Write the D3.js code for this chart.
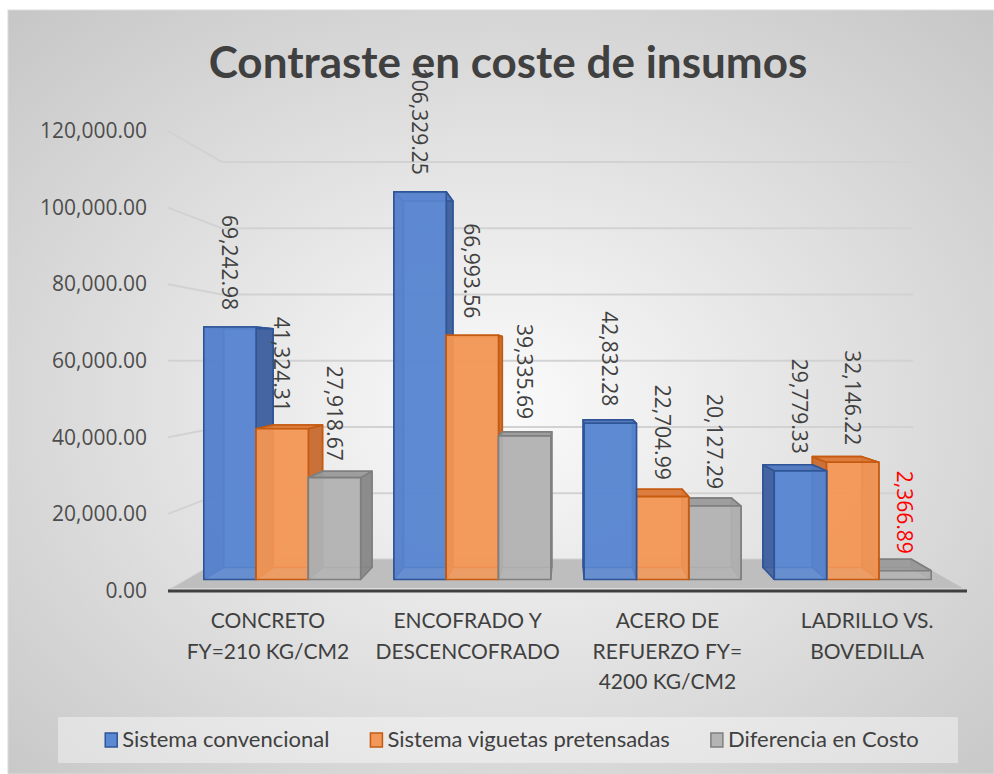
<!DOCTYPE html>
<html>
<head>
<meta charset="utf-8">
<script src="https://cdn.jsdelivr.net/npm/d3@7"></script>
<style>
  html, body { margin: 0; padding: 0; background: #ffffff; }
  svg { display: block; }
</style>
</head>
<body>
<svg id="chart" width="994" height="774"></svg>
<script>
// ---------------- DATA ----------------
const categories = [
  "CONCRETO FY=210 KG/CM2",
  "ENCOFRADO Y DESCENCOFRADO",
  "ACERO DE REFUERZO FY= 4200 KG/CM2",
  "LADRILLO VS. BOVEDILLA"
];
const categoryLines = [
  ["CONCRETO", "FY=210 KG/CM2"],
  ["ENCOFRADO Y", "DESCENCOFRADO"],
  ["ACERO DE", "REFUERZO FY=", "4200 KG/CM2"],
  ["LADRILLO VS.", "BOVEDILLA"]
];
const seriesNames = ["Sistema convencional", "Sistema viguetas pretensadas", "Diferencia en Costo"];
const convencional = [69242.98, 106329.25, 42832.28, 29779.33];
const viguetas     = [41324.31, 66993.56, 22704.99, 32146.22];
const diferencia   = [27918.67, 39335.69, 20127.29, 2366.89];
const yTicks = [0, 20000, 40000, 60000, 80000, 100000, 120000];
const titleText = "Contraste en coste de insumos";

// ---------------- STYLE ----------------
const seriesStyle = [
  { front: "#5B88D2", side: "#3F5F9C", top: "#5278BE", stroke: "#2F5597" },
  { front: "#F2985A", side: "#C46C32", top: "#D9793A", stroke: "#C55A11" },
  { front: "#B4B4B4", side: "#868686", top: "#9A9A9A", stroke: "#7F7F7F" }
];
const highlight = { category: 3, series: 2, color: "#FF0000" };

const svg = d3.select("#chart");
const W = 994, H = 774;

// background
const defs = svg.append("defs");
const rg = defs.append("radialGradient").attr("id", "bg")
  .attr("cx", "50%").attr("cy", "52%").attr("r", "75%");
rg.append("stop").attr("offset", "0%").attr("stop-color", "#fbfbfb");
rg.append("stop").attr("offset", "100%").attr("stop-color", "#c4c4c4");
svg.append("rect").attr("x", 8).attr("y", 10).attr("width", W - 8).attr("height", H - 10)
  .attr("fill", "url(#bg)").attr("stroke", "#dcdcdc").attr("stroke-width", 1);

// ---------------- SCALES / PROJECTION ----------------
const VX = 567, VY = 360;         // vanishing point
const S_WALL = 0.865, S_FLOOR_FRONT = 0.99;
const S_BAR_FRONT = 0.952, S_BAR_BACK = 0.90;
const P = (X, Y, s) => [VX + (X - VX) * s, VY + (Y - VY) * s];

const x = d3.scaleBand().domain(categories).range([168, 967])
  .paddingInner(0.175).paddingOuter(0.0875);
const xs = d3.scaleBand().domain(d3.range(seriesNames.length)).range([0, x.bandwidth()]);
const y = d3.scaleLinear().domain([0, 120000]).range([590.5, 131]);

const X0 = 168, X1 = 967;
const line = d3.line();

// side wall tick lines + back wall gridlines
const grid = svg.append("g");
yTicks.forEach(v => {
  const a = P(X0, y(v), 1), b = P(X0, y(v), S_WALL), c = P(X1, y(v), S_WALL);
  grid.append("path").attr("d", line([a, b, c]))
    .attr("fill", "none").attr("stroke", "#d2d2d2").attr("stroke-width", 2);
});

// floor
const floorPts = [P(X0, y(0), S_FLOOR_FRONT), P(X1, y(0), S_FLOOR_FRONT), P(X1, y(0), S_WALL), P(X0, y(0), S_WALL)];
svg.append("path").attr("d", line(floorPts) + "Z").attr("fill", "#bebebe");

// axis line
svg.append("line").attr("x1", X0).attr("x2", X1).attr("y1", 591).attr("y2", 591)
  .attr("stroke", "#3f3f3f").attr("stroke-width", 3);

// y axis labels
const yAxis = d3.axisLeft(y).tickValues(yTicks).tickFormat(d3.format(",.2f"))
  .tickSize(0).tickPadding(21);
const gy = svg.append("g").attr("transform", `translate(${X0},0)`).call(yAxis);
gy.select(".domain").remove();
gy.selectAll("text").attr("font-family", "'Open Sans', sans-serif").attr("font-size", 21)
  .attr("fill", "#4d4d4d");

// ---------------- BARS ----------------
const allSeries = [convencional, viguetas, diferencia];
const bars = [];
categories.forEach((c, ci) => {
  allSeries.forEach((vals, si) => {
    const xa = x(c) + xs(si), xb = xa + xs.bandwidth();
    bars.push({ ci, si, v: vals[ci], xa, xb, xc: (xa + xb) / 2 });
  });
});
bars.sort((a, b) => Math.abs(b.xc - VX) - Math.abs(a.xc - VX));

const gb = svg.append("g");
bars.forEach(d => {
  const st = seriesStyle[d.si];
  const Y0 = y(0), Y1 = y(d.v);
  const sf = S_BAR_FRONT, sb = S_BAR_BACK;
  const f00 = P(d.xa, Y0, sf), f10 = P(d.xb, Y0, sf), f11 = P(d.xb, Y1, sf), f01 = P(d.xa, Y1, sf);
  const b00 = P(d.xa, Y0, sb), b10 = P(d.xb, Y0, sb), b11 = P(d.xb, Y1, sb), b01 = P(d.xa, Y1, sb);
  const g = gb.append("g");
  const face = (pts, fill, op) => g.append("path").attr("d", line(pts) + "Z")
    .attr("fill", fill).attr("fill-opacity", op)
    .attr("stroke", st.stroke).attr("stroke-width", 1.6).attr("stroke-linejoin", "round");
  face([b00, b10, b11, b01], st.front, 0.85);
  face([f00, b00, b01, f01], st.side, 0.9);
  face([f10, b10, b11, f11], st.side, 0.9);
  face([f01, f11, b11, b01], st.top, 0.9);
  face([f00, f10, f11, f01], st.front, 0.88);
});

// data labels
const gl = svg.append("g");
bars.forEach(d => {
  const p = P(d.xc, y(d.v), S_BAR_FRONT);
  const isHi = d.ci === highlight.category && d.si === highlight.series;
  gl.append("text")
    .attr("transform", `translate(${p[0]},${p[1] - 17}) rotate(90)`)
    .attr("text-anchor", "end").attr("dominant-baseline", "central")
    .attr("font-family", "'Open Sans', sans-serif").attr("font-size", 21)
    .attr("fill", isHi ? highlight.color : "#404040")
    .text(d3.format(",.2f")(d.v));
});

// category labels
categories.forEach((c, ci) => {
  const cx = x(c) + x.bandwidth() / 2;
  const t = svg.append("text").attr("text-anchor", "middle")
    .attr("font-family", "Lato, sans-serif").attr("font-size", 21).attr("fill", "#404040");
  categoryLines[ci].forEach((ln, li) => {
    t.append("tspan").attr("x", cx).attr("y", 628 + li * 30.5).text(ln);
  });
});

// title
svg.append("text").attr("x", 508).attr("y", 78).attr("text-anchor", "middle")
  .attr("font-family", "Lato, sans-serif").attr("font-weight", "bold").attr("font-size", 44)
  .attr("fill", "#404040").text(titleText);

// legend
svg.append("rect").attr("x", 58).attr("y", 717).attr("width", 900).attr("height", 46)
  .attr("fill", "#ffffff").attr("fill-opacity", 0.4);
const lg = svg.append("g");
let lx = 0;
const items = [];
seriesNames.forEach((n, i) => {
  const it = lg.append("g");
  it.append("rect").attr("x", 0).attr("y", 733).attr("width", 12).attr("height", 14)
    .attr("fill", seriesStyle[i].front).attr("stroke", seriesStyle[i].stroke).attr("stroke-width", 1.5);
  const tx = it.append("text").attr("x", 17).attr("y", 747)
    .attr("font-family", "Lato, sans-serif").attr("font-size", 22).attr("fill", "#404040").text(n);
  const w = 17 + tx.node().getComputedTextLength();
  items.push({ it, w });
});
const gap = 41;
const total = d3.sum(items, d => d.w) + gap * (items.length - 1);
lx = 512 - total / 2;
items.forEach(d => { d.it.attr("transform", `translate(${lx},0)`); lx += d.w + gap; });
</script>
</body>
</html>
